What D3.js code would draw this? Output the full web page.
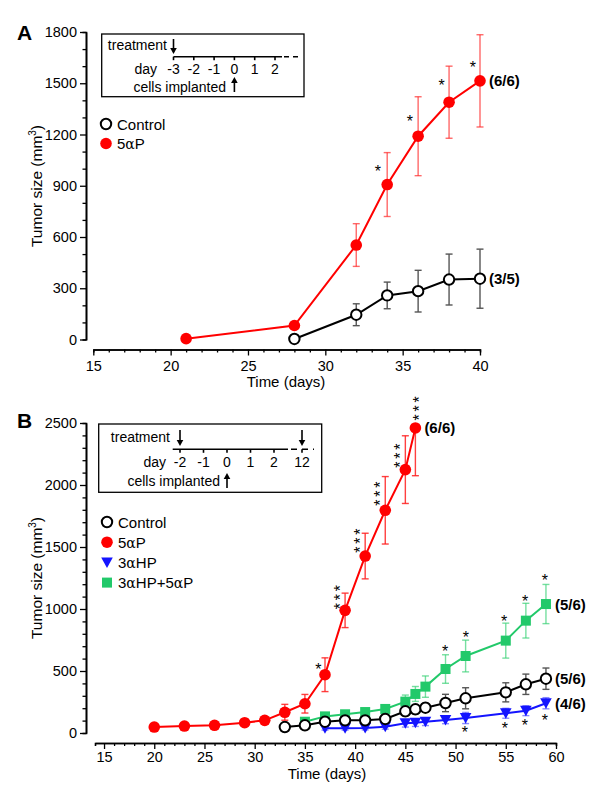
<!DOCTYPE html>
<html><head><meta charset="utf-8">
<script src="https://cdn.jsdelivr.net/npm/d3@7"></script>
<style>body{margin:0;background:#fff} svg{display:block} text{font-family:"Liberation Sans",Arial,Helvetica,sans-serif;fill:#000}</style>
</head><body><svg id="c" width="600" height="794"></svg>
<script>
// ---------- Panel A data ----------
const daysCtrlA = [28, 32, 34, 36, 38, 40];
const ctrlA     = [3, 145, 258, 283, 351, 356];
const ctrlErrA  = [0, 64, 78, 122, 149, 173];
const days5aPA  = [21, 28, 32, 34, 36, 38, 40];
const fiveAPA   = [5, 82, 553, 907, 1190, 1389, 1514];
const fiveAPErrA= [0, 0, 125, 187, 231, 211, 270];
const yTicksA = [0, 300, 600, 900, 1200, 1500, 1800];
const xTicksA = [15, 20, 25, 30, 35, 40];
const starsA = [ {d:33.4, v:1002, n:1}, {d:35.47, v:1297, n:1}, {d:37.52, v:1506, n:1}, {d:39.54, v:1612, n:1} ];
const labelsA = [ {s:"5aP", t:"(6/6)"}, {s:"ctrl", t:"(3/5)"} ];
const insetDaysA = [-3, -2, -1, 0, 1, 2];

// ---------- Panel B data ----------
const days5aPB  = [20, 23, 26, 29, 31, 33, 35, 37, 39, 41, 43, 45, 46];
const fiveAPB   = [48, 56, 62, 83, 102, 167, 236, 470, 989, 1427, 1796, 2124, 2460];
const fiveAPErrB= [0, 0, 0, 0, 0, 64, 75, 136, 139, 184, 272, 273, 385];
const daysCtrlB = [33, 35, 37, 39, 41, 43, 45, 46, 47, 49, 51, 55, 57, 59];
const ctrlB     = [48, 62, 91, 102, 102, 113, 175, 191, 204, 242, 280, 328, 393, 438];
const ctrlErrB  = [15, 20, 25, 25, 25, 25, 35, 35, 35, 70, 85, 77, 82, 86];
const days3aHPB = [37, 39, 41, 43, 45, 46, 47, 49, 51, 55, 57, 59];
const threeAHPB = [38, 38, 40, 51, 78, 83, 90, 105, 121, 159, 180, 240];
const threeAHPErrB = [15, 15, 15, 20, 30, 30, 30, 30, 45, 40, 40, 45];
const daysComboB = [35, 37, 39, 41, 43, 45, 46, 47, 49, 51, 55, 57, 59];
const comboB     = [91, 134, 151, 169, 194, 253, 315, 374, 516, 621, 745, 906, 1040];
const comboErrB  = [15, 15, 20, 20, 25, 53, 60, 86, 115, 128, 141, 140, 158];
const yTicksB = [0, 500, 1000, 1500, 2000, 2500];
const xTicksB = [15, 20, 25, 30, 35, 40, 45, 50, 55, 60];
const starsB = [
  {d:36.34, v:540, n:1}, {d:38.18, v:1107, n:3}, {d:40.17, v:1562, n:3}, {d:42.2, v:1941, n:3},
  {d:44.2, v:2248, n:3}, {d:46.04, v:2629, n:3},
  {d:48.96, v:685, n:1}, {d:51.03, v:798, n:1}, {d:54.84, v:930, n:1}, {d:56.93, v:1089, n:1}, {d:58.9, v:1258, n:1},
  {d:50.93, v:30, n:1}, {d:54.9, v:65, n:1}, {d:56.9, v:86, n:1}, {d:58.9, v:129, n:1}
];
const labelsB = [ {s:"5aP", t:"(6/6)"}, {s:"combo", t:"(5/6)"}, {s:"ctrl", t:"(5/6)"}, {s:"3aHP", t:"(4/6)"} ];
const insetDaysB = [-2, -1, 0, 1, 2];

const RED = "#ff0000", BLUE = "#1414ff", GREEN = "#22c96a";
const svg = d3.select("#c");
const AXX = 86;

function marker(g, type, x, y) {
  if (type === "open") g.append("circle").attr("cx", x).attr("cy", y).attr("r", 5.2).attr("fill", "#fff").attr("stroke", "#000").attr("stroke-width", 2);
  else if (type === "red") g.append("circle").attr("cx", x).attr("cy", y).attr("r", 5.8).attr("fill", RED);
  else if (type === "tri") g.append("path").attr("d", `M${x-5.8},${y-5}L${x+5.8},${y-5}L${x},${y+5.5}Z`).attr("fill", BLUE);
  else if (type === "sq") g.append("rect").attr("x", x-5).attr("y", y-5).attr("width", 10).attr("height", 10).attr("fill", GREEN);
}

function series(g, x, y, days, vals, errs, color, errColor, type, hideTopLast) {
  const eg = g.append("g").attr("stroke", errColor).attr("stroke-width", 1.4).attr("fill", "none");
  days.forEach((d, i) => {
    const e = errs[i]; if (!e) return;
    const px = x(d), top = y(vals[i] + e), bot = y(vals[i] - e);
    const noTop = hideTopLast && i === days.length - 1;
    eg.append("line").attr("x1", px).attr("x2", px).attr("y1", noTop ? y(vals[i]) : top).attr("y2", bot);
    if (!noTop) eg.append("line").attr("x1", px-3.5).attr("x2", px+3.5).attr("y1", top).attr("y2", top);
    eg.append("line").attr("x1", px-3.5).attr("x2", px+3.5).attr("y1", bot).attr("y2", bot);
  });
  const line = d3.line().x((d, i) => x(days[i])).y((d, i) => y(vals[i]));
  g.append("path").datum(vals).attr("d", line).attr("fill", "none").attr("stroke", color).attr("stroke-width", 2);
  days.forEach((d, i) => marker(g, type, x(d), y(vals[i])));
}

function axes(g, x, y, yTicks, yMinor, xTicks, xMinor, xLabPad) {
  const ya = g.append("g").attr("transform", `translate(${AXX},0)`);
  ya.call(d3.axisLeft(y).tickValues(yTicks).tickSize(6).tickSizeOuter(0).tickPadding(3).tickFormat(d3.format("d")));
  ya.append("g").call(d3.axisLeft(y).tickValues(yMinor).tickSize(3.5).tickFormat(""));
  ya.selectAll("path.domain").attr("stroke-width", 1.6);
  ya.selectAll("line").attr("stroke-width", 1.3);
  ya.selectAll("text").style("font-size", "14.5px").attr("fill", "#000");
  const xa = g.append("g").attr("transform", `translate(0,${y.range()[0] + 10})`);
  xa.call(d3.axisBottom(x).tickValues(xTicks).tickSize(6).tickSizeOuter(0).tickPadding(xLabPad));
  xa.append("g").call(d3.axisBottom(x).tickValues(xMinor).tickSize(3).tickFormat(""));
  xa.selectAll("path.domain").attr("stroke-width", 1.6);
  xa.selectAll("line").attr("stroke-width", 1.3);
  xa.selectAll("text").style("font-size", "14.5px").attr("fill", "#000");
}

function yTitle(yc) {
  const t = svg.append("text").attr("transform", `translate(42,${yc}) rotate(-90)`).attr("text-anchor", "middle").style("font-size", "15.5px");
  t.append("tspan").text("Tumor size (mm");
  t.append("tspan").text("3").style("font-size", "10px").attr("dy", -6);
  t.append("tspan").text(")").attr("dy", 6);
}

// stars: single "*" or a vertical stack drawn as one rotated text
function stars(g, x, y, list) {
  const fs = 16;
  list.forEach(s => {
    const cx = x(s.d), cy = y(s.v);
    if (s.n === 1) {
      g.append("text").attr("x", cx).attr("y", cy + 9).attr("text-anchor", "middle").style("font-size", fs + "px").text("*");
    } else {
      g.append("text").attr("transform", `translate(${cx + 9},${cy}) rotate(-90)`).attr("text-anchor", "middle")
        .style("font-size", fs + "px").style("letter-spacing", "2.8px").text("*".repeat(s.n));
    }
  });
}

function arrow(g, x, yTail, yTip) {
  const dir = yTip > yTail ? 1 : -1;
  g.append("line").attr("x1", x).attr("x2", x).attr("y1", yTail).attr("y2", yTip - dir*5).attr("stroke", "#000").attr("stroke-width", 1.6);
  g.append("path").attr("d", `M${x-3.3},${yTip - dir*6}L${x+3.3},${yTip - dir*6}L${x},${yTip}Z`).attr("fill", "#000");
}

function legend(g, items, x, y0, dy) {
  items.forEach((it, i) => {
    marker(g, it.type, x, y0 + i*dy);
    const t = g.append("text").attr("x", x + 11).attr("y", y0 + i*dy + 5.5).style("font-size", "15px");
    it.parts.forEach(p => t.append("tspan").text(p.t).style("font-family", p.sym ? "DejaVu Serif, serif" : null).style("font-size", p.sym ? "14px" : null));
  });
}

// ================= Panel A =================
{
  const g = svg.append("g");
  const x = d3.scaleLinear().domain([15, 40]).range([93.3, 480]);
  const y = d3.scaleLinear().domain([0, 1800]).range([339.5, 32]);
  axes(g, x, y, yTicksA, d3.range(0, 1801, 100).filter(v => v % 300), xTicksA, d3.range(15, 41, 1).filter(v => v % 5), 5);
  svg.append("text").attr("x", 17).attr("y", 40).style("font-size", "21px").style("font-weight", "bold").text("A");
  yTitle(186);
  svg.append("text").attr("x", 286).attr("y", 387).attr("text-anchor", "middle").style("font-size", "15px").text("Time (days)");

  series(g, x, y, daysCtrlA, ctrlA, ctrlErrA, "#000", "#555", "open");
  series(g, x, y, days5aPA, fiveAPA, fiveAPErrA, RED, "rgba(255,40,40,0.7)", "red");
  stars(g, x, y, starsA);
  const last = s => s === "5aP" ? [days5aPA.at(-1), fiveAPA.at(-1)] : [daysCtrlA.at(-1), ctrlA.at(-1)];
  labelsA.forEach(l => { const [d, v] = last(l.s);
    g.append("text").attr("x", x(d) + 9).attr("y", y(v) + 5.5).style("font-size", "15px").style("font-weight", "bold").text(l.t); });

  // inset
  const ig = svg.append("g");
  ig.append("rect").attr("x", 101.7).attr("y", 34).attr("width", 202.3).attr("height", 62.7).attr("fill", "#fff").attr("stroke", "#000").attr("stroke-width", 1.3);
  const ix = d3.scaleLinear().domain([-3, 2]).range([173.5, 275]);
  const ly = 56.7;
  ig.append("line").attr("x1", ix(-3)).attr("x2", 282).attr("y1", ly).attr("y2", ly).attr("stroke", "#000").attr("stroke-width", 1.6);
  ig.append("line").attr("x1", 284).attr("x2", 301).attr("y1", ly).attr("y2", ly).attr("stroke", "#000").attr("stroke-width", 1.4).attr("stroke-dasharray", "5,4");
  insetDaysA.forEach(d => {
    ig.append("line").attr("x1", ix(d)).attr("x2", ix(d)).attr("y1", ly).attr("y2", ly + 3.5).attr("stroke", "#000").attr("stroke-width", 1.6);
    ig.append("text").attr("x", ix(d)).attr("y", 74).attr("text-anchor", "middle").style("font-size", "14px").text(d);
  });
  ig.append("text").attr("x", 167).attr("y", 50).attr("text-anchor", "end").style("font-size", "14px").text("treatment");
  ig.append("text").attr("x", 157).attr("y", 74).attr("text-anchor", "end").style("font-size", "14px").text("day");
  ig.append("text").attr("x", 226).attr("y", 92).attr("text-anchor", "end").style("font-size", "14px").text("cells implanted");
  arrow(ig, ix(-3), 39, 54);
  arrow(ig, ix(0), 92, 77);

  legend(svg.append("g"), [
    {type:"open", parts:[{t:"Control"}]},
    {type:"red", parts:[{t:"5"},{t:"α",sym:true},{t:"P"}]}
  ], 106, 124, 19.5);
}

// ================= Panel B =================
{
  const g = svg.append("g");
  const x = d3.scaleLinear().domain([14.1, 60]).range([95, 556]);
  const y = d3.scaleLinear().domain([0, 2500]).range([733, 423]);
  axes(g, x, y, yTicksB, d3.range(0, 2501, 100).filter(v => v % 500), xTicksB, d3.range(15, 61, 1).filter(v => v % 5), 2.5);
  svg.append("text").attr("x", 17).attr("y", 428).style("font-size", "21px").style("font-weight", "bold").text("B");
  yTitle(578);
  svg.append("text").attr("x", 327).attr("y", 779).attr("text-anchor", "middle").style("font-size", "15px").text("Time (days)");

  series(g, x, y, daysComboB, comboB, comboErrB, GREEN, "rgba(60,210,120,0.7)", "sq");
  series(g, x, y, days3aHPB, threeAHPB, threeAHPErrB, BLUE, "rgba(60,60,255,0.6)", "tri");
  series(g, x, y, daysCtrlB, ctrlB, ctrlErrB, "#000", "#555", "open");
  series(g, x, y, days5aPB, fiveAPB, fiveAPErrB, RED, "rgba(255,30,30,0.85)", "red", true);
  stars(g, x, y, starsB);
  const last = { "5aP":[days5aPB, fiveAPB], "combo":[daysComboB, comboB], "ctrl":[daysCtrlB, ctrlB], "3aHP":[days3aHPB, threeAHPB] };
  labelsB.forEach(l => { const [ds, vs] = last[l.s];
    g.append("text").attr("x", x(ds.at(-1)) + 9).attr("y", y(vs.at(-1)) + 5.5).style("font-size", "15px").style("font-weight", "bold").text(l.t); });

  // inset
  const ig = svg.append("g");
  ig.append("rect").attr("x", 98.7).attr("y", 424).attr("width", 223).attr("height", 68.3).attr("fill", "#fff").attr("stroke", "#000").attr("stroke-width", 1.3);
  const ix = d3.scaleLinear().domain([-2, 2]).range([180, 274]);
  const ly = 449.3;
  ig.append("line").attr("x1", 172.7).attr("x2", 288).attr("y1", ly).attr("y2", ly).attr("stroke", "#000").attr("stroke-width", 1.6);
  ig.append("line").attr("x1", 291).attr("x2", 314).attr("y1", ly).attr("y2", ly).attr("stroke", "#000").attr("stroke-width", 1.4).attr("stroke-dasharray", "6,5");
  insetDaysB.forEach(d => {
    ig.append("line").attr("x1", ix(d)).attr("x2", ix(d)).attr("y1", ly).attr("y2", ly + 3.5).attr("stroke", "#000").attr("stroke-width", 1.6);
    ig.append("text").attr("x", ix(d)).attr("y", 467).attr("text-anchor", "middle").style("font-size", "14px").text(d);
  });
  ig.append("line").attr("x1", 302).attr("x2", 302).attr("y1", ly).attr("y2", ly + 3.5).attr("stroke", "#000").attr("stroke-width", 1.6);
  ig.append("text").attr("x", 302).attr("y", 467).attr("text-anchor", "middle").style("font-size", "14px").text("12");
  ig.append("text").attr("x", 170).attr("y", 442).attr("text-anchor", "end").style("font-size", "14px").text("treatment");
  ig.append("text").attr("x", 166).attr("y", 467).attr("text-anchor", "end").style("font-size", "14px").text("day");
  ig.append("text").attr("x", 220).attr("y", 485.5).attr("text-anchor", "end").style("font-size", "14px").text("cells implanted");
  arrow(ig, ix(-2), 430, 446);
  arrow(ig, 302, 430, 446);
  arrow(ig, ix(0), 488, 473);

  legend(svg.append("g"), [
    {type:"open", parts:[{t:"Control"}]},
    {type:"red", parts:[{t:"5"},{t:"α",sym:true},{t:"P"}]},
    {type:"tri", parts:[{t:"3"},{t:"α",sym:true},{t:"HP"}]},
    {type:"sq", parts:[{t:"3"},{t:"α",sym:true},{t:"HP+5"},{t:"α",sym:true},{t:"P"}]}
  ], 107, 522, 20.2);
}
</script></body></html>
